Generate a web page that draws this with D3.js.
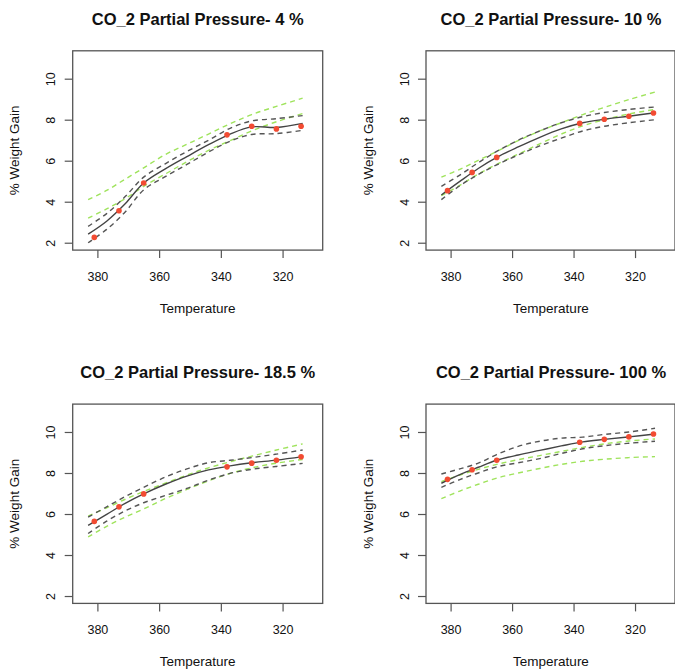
<!DOCTYPE html>
<html>
<head>
<meta charset="utf-8">
<script src="https://cdn.jsdelivr.net/npm/d3@7"></script>
<style>
  body { margin: 0; background: #fff; }
  svg { display: block; }
  text { font-family: "Liberation Sans", Arial, Helvetica, sans-serif; fill: #111; }
</style>
</head>
<body>
<svg id="chart" width="675" height="672"></svg>
<script>
// Measured temperatures and weight gain at each CO2 partial pressure
const temps = [381, 373, 365, 338, 330, 322, 314];
const pressures = ["4", "10", "18.5", "100"];

const obs4   = [2.26, 3.56, 4.91, 7.26, 7.68, 7.55, 7.68];
const obs10  = [4.54, 5.43, 6.16, 7.82, 8.02, 8.17, 8.33];
const obs185 = [5.64, 6.35, 6.98, 8.30, 8.48, 8.62, 8.79];
const obs100 = [7.69, 8.16, 8.62, 9.50, 9.64, 9.76, 9.90];

// Temperatures at which the fitted curve and its bands are evaluated
const gridTemps = [383, 377, 371, 365, 358, 351, 344, 337, 330, 322, 313.5];

// 4 % CO2: fit, confidence band (dark) and prediction band (green)
const fit4   = [2.42, 3.05, 3.90, 4.91, 5.60, 6.20, 6.78, 7.30, 7.65, 7.62, 7.82];
const ciHi4  = [2.80, 3.42, 4.25, 5.20, 5.85, 6.45, 7.00, 7.58, 7.94, 8.05, 8.20];
const ciLo4  = [2.00, 2.65, 3.50, 4.58, 5.22, 5.82, 6.42, 6.95, 7.28, 7.32, 7.48];
const piHi4  = [4.10, 4.55, 5.10, 5.65, 6.30, 6.80, 7.30, 7.80, 8.25, 8.65, 9.05];
const piLo4  = [3.20, 3.65, 4.15, 4.75, 5.35, 5.95, 6.50, 6.98, 7.45, 7.90, 8.30];

// 10 % CO2
const fit10  = [4.33, 4.99, 5.62, 6.16, 6.67, 7.14, 7.55, 7.85, 8.02, 8.17, 8.34];
const ciHi10 = [4.75, 5.30, 5.90, 6.45, 7.00, 7.45, 7.85, 8.15, 8.35, 8.50, 8.62];
const ciLo10 = [4.10, 4.78, 5.33, 5.80, 6.28, 6.72, 7.10, 7.45, 7.68, 7.85, 8.00];
const piHi10 = [5.20, 5.58, 6.02, 6.45, 6.98, 7.45, 7.85, 8.25, 8.60, 8.98, 9.35];
const piLo10 = [4.30, 4.80, 5.35, 5.82, 6.32, 6.82, 7.30, 7.70, 8.00, 8.28, 8.50];

// 18.5 % CO2
const fit185  = [5.45, 5.98, 6.52, 6.98, 7.45, 7.85, 8.15, 8.35, 8.50, 8.63, 8.80];
const ciHi185 = [5.85, 6.35, 6.85, 7.30, 7.80, 8.20, 8.50, 8.62, 8.75, 8.92, 9.12];
const ciLo185 = [5.05, 5.65, 6.15, 6.55, 6.90, 7.25, 7.65, 7.98, 8.18, 8.32, 8.47];
const piHi185 = [5.90, 6.30, 6.72, 7.10, 7.50, 7.90, 8.25, 8.55, 8.82, 9.12, 9.42];
const piLo185 = [4.88, 5.40, 5.85, 6.25, 6.75, 7.20, 7.62, 7.98, 8.25, 8.48, 8.66];

// 100 % CO2
const fit100  = [7.50, 7.92, 8.28, 8.62, 8.88, 9.10, 9.32, 9.52, 9.64, 9.76, 9.90];
const ciHi100 = [7.95, 8.20, 8.48, 8.90, 9.30, 9.55, 9.70, 9.75, 9.88, 10.00, 10.18];
const ciLo100 = [7.30, 7.68, 8.00, 8.30, 8.50, 8.70, 8.95, 9.18, 9.33, 9.45, 9.55];
const piHi100 = [7.58, 7.90, 8.18, 8.42, 8.65, 8.85, 9.05, 9.25, 9.42, 9.56, 9.66];
const piLo100 = [6.75, 7.12, 7.45, 7.75, 8.00, 8.22, 8.42, 8.57, 8.67, 8.75, 8.80];

const xTicks = [380, 360, 340, 320];
const yTicks = [2, 4, 6, 8, 10];
const xDomain = [388, 307];
const yDomain = [1.64, 11.36];

const panels = [
  { p: pressures[0], obs: obs4,   fit: fit4,   ciHi: ciHi4,   ciLo: ciLo4,   piHi: piHi4,   piLo: piLo4 },
  { p: pressures[1], obs: obs10,  fit: fit10,  ciHi: ciHi10,  ciLo: ciLo10,  piHi: piHi10,  piLo: piLo10 },
  { p: pressures[2], obs: obs185, fit: fit185, ciHi: ciHi185, ciLo: ciLo185, piHi: piHi185, piLo: piLo185 },
  { p: pressures[3], obs: obs100, fit: fit100, ciHi: ciHi100, ciLo: ciLo100, piHi: piHi100, piLo: piLo100 }
];

const svg = d3.select("#chart");
const cellW = 353.3, cellH = 353.3;
const boxLeft = 72.7, boxTop = 50.8, boxH = 199.3;

panels.forEach((d, i) => {
  const col = i % 2, row = Math.floor(i / 2);
  const bx = boxLeft + col * cellW;
  const by = boxTop + row * cellH;
  const bw = col === 0 ? 250 : 249;

  const x = d3.scaleLinear().domain(xDomain).range([bx, bx + bw]);
  const y = d3.scaleLinear().domain(yDomain).range([by + boxH, by]);
  const g = svg.append("g");

  // x axis
  const xa = g.append("g")
    .attr("transform", `translate(0,${by + boxH})`)
    .call(d3.axisBottom(x).tickValues(xTicks).tickSize(8).tickFormat(d3.format("d")));
  xa.select(".domain").remove();
  xa.selectAll("line").attr("stroke", "#555").attr("stroke-width", 1.2);
  xa.selectAll("text").attr("y", 31).attr("dy", 0)
    .attr("font-size", 12.5).attr("fill", "#111")
    .style("font-family", '"Liberation Sans", Arial, sans-serif');

  // y axis, labels parallel to the axis
  const ya = g.append("g")
    .attr("transform", `translate(${bx},0)`)
    .call(d3.axisLeft(y).tickValues(yTicks).tickSize(8));
  ya.select(".domain").remove();
  ya.selectAll("line").attr("stroke", "#555").attr("stroke-width", 1.2);
  ya.selectAll("text")
    .attr("x", null).attr("dy", 0)
    .attr("text-anchor", "middle")
    .attr("transform", "translate(-17.5,0) rotate(-90)")
    .attr("font-size", 12.5).attr("fill", "#111")
    .style("font-family", '"Liberation Sans", Arial, sans-serif');

  // band and fit curves
  const line = vals => d3.line()
    .x((t, k) => x(gridTemps[k]))
    .y((t, k) => y(vals[k]))
    .curve(d3.curveCatmullRom.alpha(0.5))(gridTemps);

  [d.piHi, d.piLo].forEach(v => {
    g.append("path").attr("d", line(v))
      .attr("fill", "none").attr("stroke", "#9fe35c")
      .attr("stroke-width", 1.4).attr("stroke-dasharray", "5,4");
  });
  [d.ciHi, d.ciLo].forEach(v => {
    g.append("path").attr("d", line(v))
      .attr("fill", "none").attr("stroke", "#555")
      .attr("stroke-width", 1.4).attr("stroke-dasharray", "5,4");
  });
  g.append("path").attr("d", line(d.fit))
    .attr("fill", "none").attr("stroke", "#444").attr("stroke-width", 1.4);

  // observed points
  g.selectAll("circle.obs").data(d.obs).enter().append("circle")
    .attr("class", "obs")
    .attr("cx", (v, k) => x(temps[k]))
    .attr("cy", v => y(v))
    .attr("r", 2.8)
    .attr("fill", "#f24b32");

  // plot box
  g.append("rect")
    .attr("x", bx).attr("y", by).attr("width", bw).attr("height", boxH)
    .attr("fill", "none").attr("stroke", "#555").attr("stroke-width", 1.3);

  // titles
  g.append("text")
    .attr("x", bx + 125).attr("y", by - 26.3)
    .attr("text-anchor", "middle")
    .attr("font-size", 16.5).attr("font-weight", "bold")
    .text(`CO_2 Partial Pressure- ${d.p} %`);

  g.append("text")
    .attr("x", bx + 125).attr("y", by + boxH + 63)
    .attr("text-anchor", "middle")
    .attr("font-size", 13.5)
    .text("Temperature");

  g.append("text")
    .attr("transform", `translate(${bx - 53.5},${by + boxH / 2}) rotate(-90)`)
    .attr("text-anchor", "middle")
    .attr("font-size", 13.5)
    .text("% Weight Gain");
});
</script>
</body>
</html>
